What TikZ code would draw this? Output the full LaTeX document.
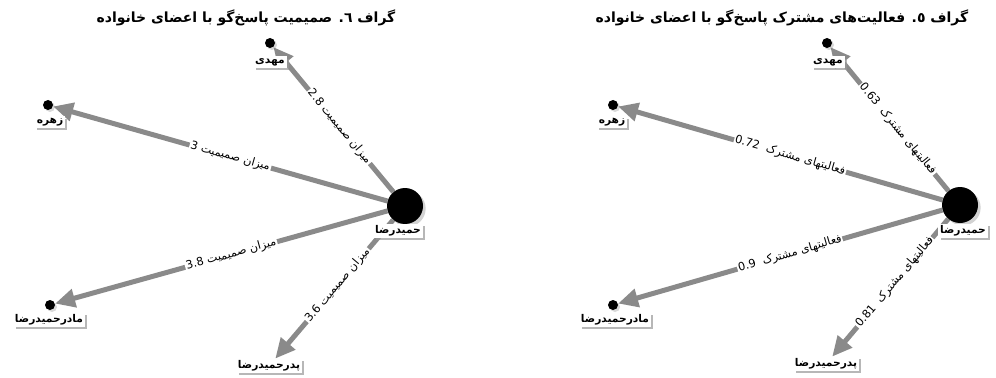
\documentclass[tikz,border=0pt]{standalone}
\usepackage{fontspec}
\newfontfamily\arabicfont[Script=Arabic]{DejaVu Sans}
\TeXXeTstate=1
\usetikzlibrary{arrows.meta,shadows,backgrounds}
\definecolor{linkgray}{HTML}{8A8A8A}
\tikzset{
  hub/.style={circle, fill=black, minimum size=27pt, inner sep=0pt,
    drop shadow={opacity=0.35, shadow xshift=2pt, shadow yshift=-2pt}},
  leaf/.style={circle, fill=black, minimum size=7.5pt, inner sep=0pt,
    drop shadow={opacity=0.3, shadow xshift=1.5pt, shadow yshift=-1.5pt}},
  tag/.style={fill=white, inner sep=1.3pt,
    font=\arabicfont\bfseries\fontsize{8}{9}\selectfont,
    drop shadow={fill=gray!80, opacity=0.7, shadow xshift=1.8pt, shadow yshift=-1.8pt}},
  link/.style={draw=linkgray, line width=3.75pt, -{Triangle[length=15pt,width=13.5pt]}},
  weight/.style={sloped, fill=white, inner sep=0.8pt,
    font=\arabicfont\fontsize{8.5}{9}\selectfont},
  caption/.style={font=\arabicfont\bfseries\fontsize{10.5}{12}\selectfont}
}
\begin{document}
\begin{tikzpicture}[x=0.75pt,y=-0.75pt]
    \useasboundingbox (0,0) rectangle (996,378);
    % Titles
    \node[caption] (titleL) at (246,18) {\beginR گراف ٦. صمیمیت پاسخ‌گو با اعضای خانواده\endR};
    \node[caption] (titleR) at (782,18) {\beginR گراف ٥. فعالیت‌های مشترک پاسخ‌گو با اعضای خانواده\endR};
    % Left graph: nodes
    \node[hub] (hubL) at (405,206) {};
    \node[tag] (hubLtag) at (398,231) {\beginR حمیدرضا\endR};
    \node[leaf] (mahdiL) at (270,43) {};
    \node[tag] (mahdiLtag) at (270,62) {\beginR مهدی\endR};
    \node[leaf] (zohreL) at (48,105) {};
    \node[tag] (zohreLtag) at (50,122) {\beginR زهره\endR};
    \node[leaf] (madarL) at (50,305) {};
    \node[tag] (madarLtag) at (49,320) {\beginR مادرحمیدرضا\endR};
    \node[tag] (pedarL) at (269,366) {\beginR پدرحمیدرضا\endR};
    % Right graph: nodes
    \node[hub] (hubR) at (960,205) {};
    \node[tag] (hubRtag) at (963,231) {\beginR حمیدرضا\endR};
    \node[leaf] (mahdiR) at (827,43) {};
    \node[tag] (mahdiRtag) at (828,62) {\beginR مهدی\endR};
    \node[leaf] (zohreR) at (613,105) {};
    \node[tag] (zohreRtag) at (612,122) {\beginR زهره\endR};
    \node[leaf] (madarR) at (613,305) {};
    \node[tag] (madarRtag) at (615,320) {\beginR مادرحمیدرضا\endR};
    \node[tag] (pedarR) at (826,364) {\beginR پدرحمیدرضا\endR};
    % Weighted links
    \begin{pgfonlayer}{background}
    \foreach \t/\w/\p in {mahdiL/2.8/0.45, zohreL/3/0.47, madarL/3.8/0.47, pedarL/3.6/0.47} {
        \draw[link] (hubL) -- node[weight, pos=\p] {\beginR میزان صمیمیت \beginL\w\endL\endR} (\t);
    }
    \foreach \t/\w/\p in {mahdiR/0.63/0.43, zohreR/0.72/0.47, madarR/0.9/0.47, pedarR/0.81/0.46} {
        \draw[link] (hubR) -- node[weight, pos=\p] {\beginR فعالیتهای مشترک \ \beginL\w\endL\endR} (\t);
    }
    \end{pgfonlayer}
\end{tikzpicture}
\end{document}
